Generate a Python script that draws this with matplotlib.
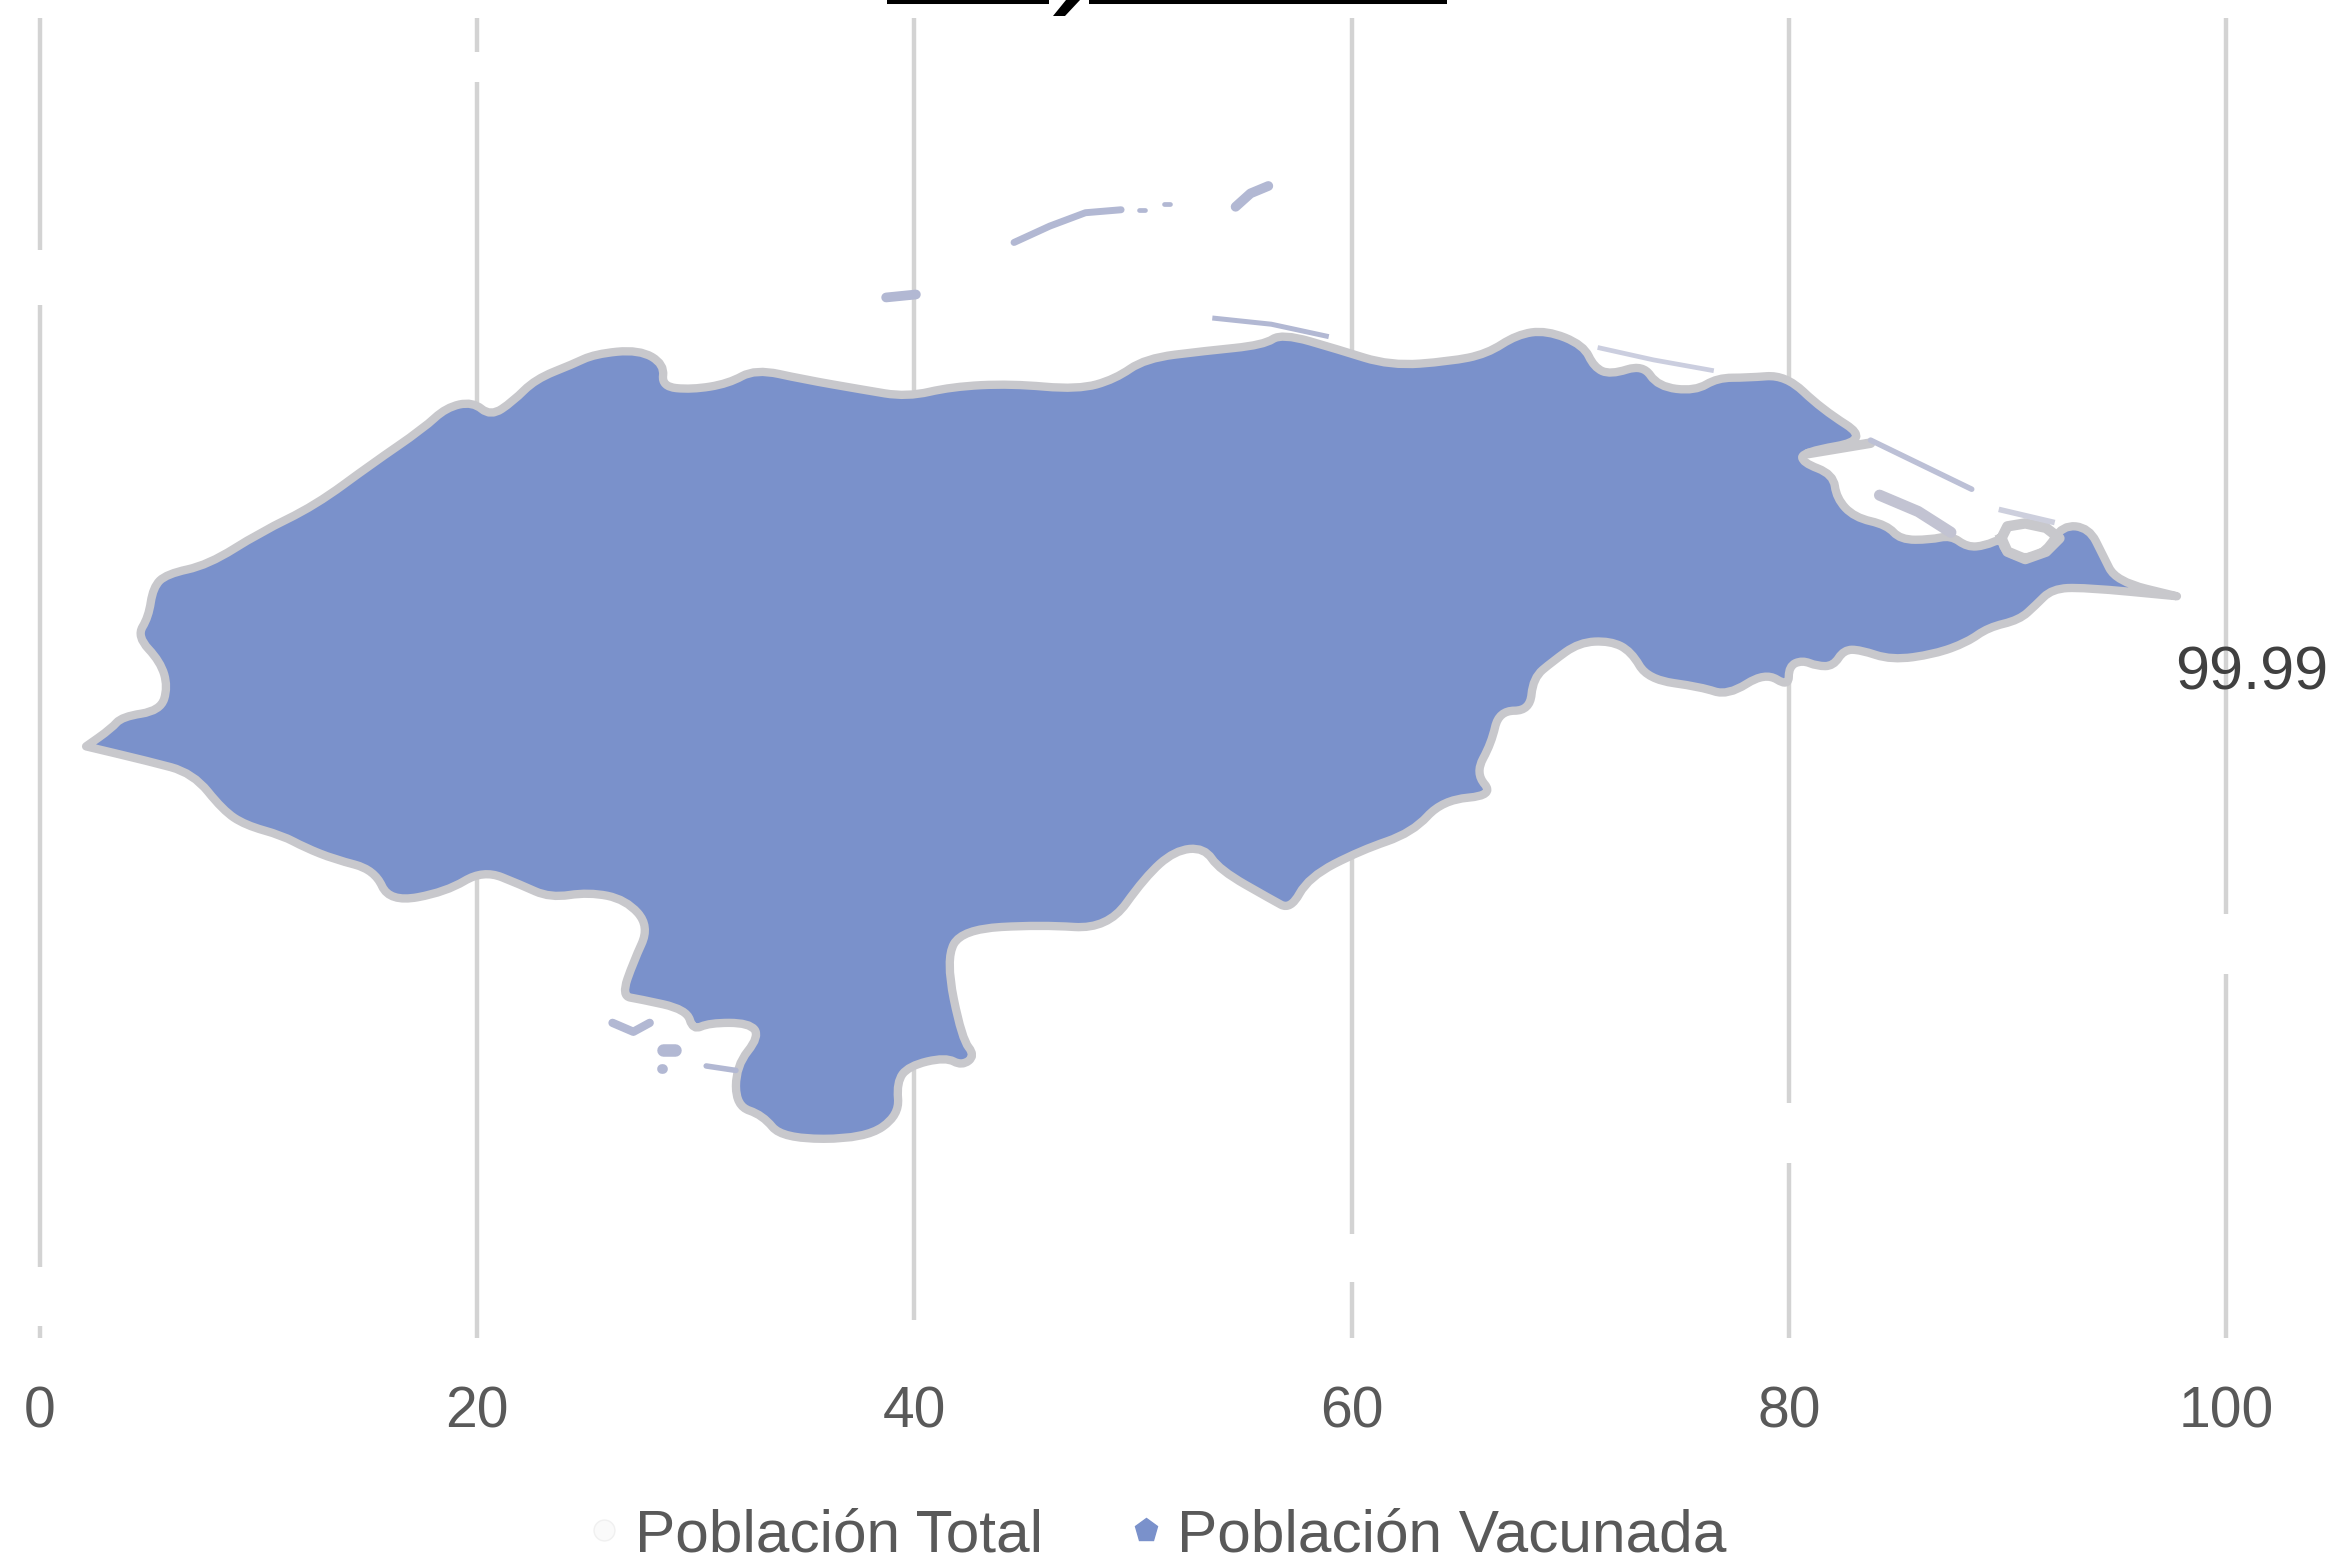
import matplotlib
matplotlib.use("Agg")
import matplotlib.pyplot as plt
from matplotlib.lines import Line2D
from matplotlib.path import Path
from matplotlib.patches import PathPatch

plt.rcParams['font.family'] = ['Liberation Sans', 'DejaVu Sans']

# ---- values ----
series_names = ["Población Total", "Población Vacunada"]
series_values = [100, 99.99]
tick_values = [0, 20, 40, 60, 80, 100]

# Outline of the country picture that fills the bar (trace units)
outline_x = [58, 58, 75, 82, 108, 113, 108, 92, 100, 103, 112, 140, 175, 212, 250, 285, 300, 318, 330, 345, 360,
             385, 400, 430, 447, 445, 465, 490, 508, 540, 580, 610, 640, 680, 725, 750, 770, 810, 850, 862,
             900, 935, 975, 1000, 1020, 1040, 1065, 1072, 1083, 1105, 1115, 1140, 1155, 1175, 1201, 1225, 1258,
             1212, 1212, 1233, 1235, 1247, 1269, 1278, 1298, 1312, 1323, 1335, 1346, 1348, 1362, 1376, 1387,
             1405, 1414, 1423, 1464, 1464, 1401, 1380, 1369, 1358, 1337, 1323, 1301, 1272, 1251, 1240, 1233, 1222,
             1212, 1203, 1203, 1187, 1162, 1144, 1108, 1097, 1083, 1062, 1044, 1031, 1029, 1008, 1003, 992,
             1005, 970, 950, 915, 880, 868, 855, 820, 810, 790, 770, 745, 700, 647, 636, 647, 656, 647, 636,
             611, 603, 605, 582, 526, 513, 495, 495, 511, 504, 477, 466, 462, 430, 418, 426, 437, 421, 396,
             370, 350, 325, 300, 262, 252, 225, 205, 190, 165, 150, 130, 100]
outline_y = [502, 502, 490, 482, 478, 462, 445, 428, 415, 395, 386, 380, 358, 340, 312, 288, 274, 270, 280, 270, 255,
             245, 238, 235, 245, 260, 262, 258, 248, 255, 262, 267, 260, 258, 262, 255, 241, 236, 232, 224,
             235, 246, 243, 238, 225, 222, 232, 247, 252, 245, 260, 263, 254, 254, 252, 275, 296,
             304, 311, 319, 335, 348, 353, 363, 363, 360, 368, 367, 362, 371, 376, 371, 353,
             355, 373, 391, 401, 401, 395, 396, 407, 417, 422, 432, 440, 444, 437, 437, 448, 448,
             444, 448, 462, 452, 468, 462, 457, 438, 431, 432, 445, 456, 478, 478, 500, 520,
             535, 538, 560, 572, 590, 612, 605, 585, 570, 572, 590, 625, 622, 625, 645, 699, 710, 717, 711,
             717, 728, 750, 766, 766, 750, 744, 717, 697, 688, 688, 693, 679, 672, 670, 647, 623, 605, 600,
             604, 595, 585, 600, 607, 585, 578, 570, 562, 555, 545, 520, 512]

# Detached pieces of the picture: (x list, y list)
island_bar = ([682, 706, 730, 754], [163, 152, 143, 141])
island_dot_a = ([766, 770], [141, 141])
island_dot_b = ([783, 787], [137, 137])
island_swan = ([831, 841, 853], [139, 130, 125])
island_cayo = ([596, 616], [200, 198])
spit_north = ([817, 855, 892], [214, 218, 226])
spit_lagoon = ([1258, 1326], [296, 329])
lagoon_band = ([1216, 1258], [305, 298])
barrier_east = ([1076, 1112, 1151], [234, 242, 249])
island_lagoon = ([1264, 1290, 1312], [333, 344, 358])
lagoon_ring_x = [1346, 1350, 1362, 1376, 1385, 1376, 1362, 1350, 1346]
lagoon_ring_y = [362, 354, 352, 355, 362, 371, 376, 371, 362]
lagoon_cap = ([1346, 1380], [343, 351])
islet_a = ([412, 426, 437], [688, 694, 688])
islet_b = ([446, 454], [706, 706])
islet_c = ([445, 446], [719, 719])
islet_d = ([475, 495], [717, 720])

# White breaks in the gridlines (trace units, top and bottom of each break)
grid_top, grid_bottom = 12, 900
grid_gaps = {0: [(168, 205), (852, 892)], 20: [(35, 55)], 40: [(888, 900)],
             60: [(830, 862)], 80: [(742, 782)], 100: [(615, 655)]}

W, H = 2332, 1559


def ax_x(v):
    return [(p - 27) / 14.7 for p in v]


def ax_y(v):
    return [(900 - p) / 8.88 for p in v]


def smooth_closed(xs, ys):
    """Closed path with quadratic corners through the mid-points of the traced outline."""
    pts = list(zip(xs, ys))
    n = len(pts)
    mid = lambda a, b: ((a[0] + b[0]) / 2, (a[1] + b[1]) / 2)
    verts = [mid(pts[-1], pts[0])]
    codes = [Path.MOVETO]
    for i in range(n):
        verts += [pts[i], mid(pts[i], pts[(i + 1) % n])]
        codes += [Path.CURVE3, Path.CURVE3]
    return Path(verts, codes)


fig = plt.figure(figsize=(W / 100, H / 100), dpi=100, facecolor='white')
ax = fig.add_axes([40 / W, 1 - 1338 / H, (2226 - 40) / W, (1338 - 18) / H])
ax.set_xlim(0, 100)
ax.set_ylim(0, 100)
ax.patch.set_alpha(0)
for s in ax.spines.values():
    s.set_visible(False)
ax.set_yticks([])
ax.set_xticks(tick_values)
ax.set_xticklabels([str(t) for t in tick_values], fontsize=41, color='#595959')
ax.tick_params(axis='x', length=0, pad=34)

# gridlines with their breaks
grid_color = '#D3D3D3'
for t in tick_values:
    edges = [grid_top]
    for a, b in grid_gaps[t]:
        edges += [a, b]
    edges.append(grid_bottom)
    for i in range(0, len(edges), 2):
        y0, y1 = ax_y(edges[i:i + 2])
        ax.plot([t, t], [y0, y1], color=grid_color, lw=3.2, solid_capstyle='butt', zorder=1, clip_on=False)

fill_color = '#7A91CB'
edge_color = '#C8C8CC'
islet_color = '#B2B8D3'

ax.add_patch(PathPatch(smooth_closed(ax_x(outline_x), ax_y(outline_y)), facecolor=fill_color,
                       edgecolor=edge_color, lw=6.0, joinstyle='round', zorder=3))
ax.plot(ax_x(lagoon_ring_x), ax_y(lagoon_ring_y), color=edge_color, lw=7.5, zorder=4)
ax.plot(ax_x(lagoon_cap[0]), ax_y(lagoon_cap[1]), color='#CDCFDD', lw=4.0, zorder=4)
ax.plot(ax_x(lagoon_band[0]), ax_y(lagoon_band[1]), color=edge_color, lw=7.0, zorder=4, solid_capstyle='round')
ax.plot(ax_x(spit_lagoon[0]), ax_y(spit_lagoon[1]), color='#BCC0D6', lw=4.0, zorder=4, solid_capstyle='round')
ax.plot(ax_x(island_lagoon[0]), ax_y(island_lagoon[1]), color='#C2C3D2', lw=8.0, zorder=4, solid_capstyle='round')
ax.plot(ax_x(spit_north[0]), ax_y(spit_north[1]), color=islet_color, lw=3.6, zorder=4)
ax.plot(ax_x(barrier_east[0]), ax_y(barrier_east[1]), color='#CBCEDF', lw=3.4, zorder=4)
for piece, width in [(island_bar, 5.0), (island_dot_a, 3.4), (island_dot_b, 3.4), (island_swan, 7.0),
                     (island_cayo, 7.0), (islet_a, 6.0), (islet_b, 9.0), (islet_c, 7.0), (islet_d, 4.0)]:
    ax.plot(ax_x(piece[0]), ax_y(piece[1]), color=islet_color, lw=width, zorder=2 if piece is island_cayo else 4,
            solid_capstyle='round')

# data label of the vaccinated series
ax.text(series_values[1] + 1.17, ax_y([453])[0], f"{series_values[1]:.2f}", fontsize=44, color='#404040',
        ha='center', va='center', clip_on=False, zorder=5)

# legend
handles = [Line2D([], [], ls='none', marker='o', ms=15, mfc='#FAFAFA', mec='#F0F0F0', label=series_names[0]),
           Line2D([], [], ls='none', marker='p', ms=17, mfc=fill_color, mec=fill_color, label=series_names[1])]
fig.legend(handles=handles, ncol=2, loc='center', bbox_to_anchor=(1150 / W, 1 - 1536 / H), frameon=False,
           fontsize=43.5, labelcolor='#595959', handletextpad=0.02, columnspacing=1.2, handlelength=1.0,
           borderpad=0)

# underlined title cut off by the top edge of the picture
title_ax = fig.add_axes([0, 0, 1, 1])
title_ax.set_axis_off()
title_ax.set_xlim(0, W)
title_ax.set_ylim(H, 0)
title_ax.patch.set_alpha(0)
title_ax.plot([887, 1049], [1.5, 1.5], color='black', lw=2.9, solid_capstyle='butt')
title_ax.plot([1089, 1447], [1.5, 1.5], color='black', lw=2.9, solid_capstyle='butt')
title_ax.fill([1066, 1080, 1065, 1053], [0, 0, 16, 16], color='black', lw=0)

fig.savefig('out.png', dpi=100, facecolor='white')
